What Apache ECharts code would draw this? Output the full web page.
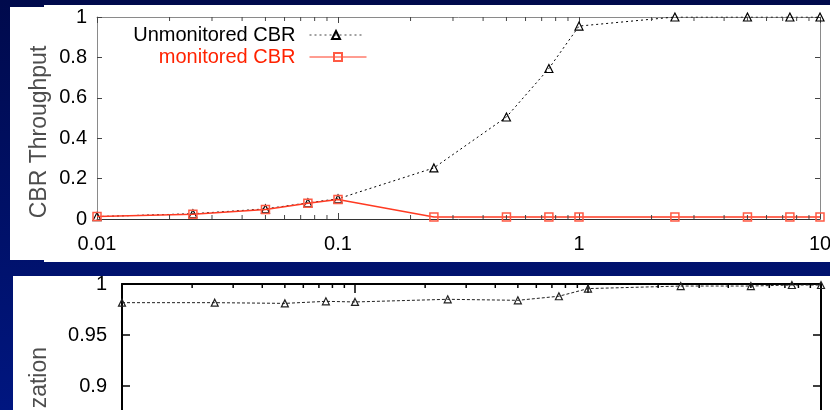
<!DOCTYPE html>
<html><head><meta charset="utf-8">
<script src="https://cdn.jsdelivr.net/npm/echarts@6/dist/echarts.min.js"></script>
<style>html,body{margin:0;padding:0;background:#020f66;overflow:hidden}#c{width:830px;height:410px}</style>
</head><body><div id="c"></div>
<script>
// ---- data ----
const xLoad = [0.01, 0.025, 0.05, 0.075, 0.1, 0.25, 0.5, 0.75, 1, 2.5, 5, 7.5, 10];
const unmonitoredThroughput = [0.012, 0.026, 0.05, 0.08, 0.1, 0.253, 0.505, 0.745, 0.955, 1, 1, 1, 1];
const monitoredThroughput = [0.012, 0.024, 0.047, 0.078, 0.097, 0.01, 0.01, 0.01, 0.01, 0.01, 0.01, 0.01, 0.01];
const unmonitoredUtilization = [0.9817, 0.9817, 0.981, 0.983, 0.9824, 0.985, 0.984, 0.988, 0.9955, 0.998, 0.998, 0.999, 0.999];
const xMinorTicks = [0.02,0.03,0.04,0.05,0.06,0.07,0.08,0.09,0.2,0.3,0.4,0.5,0.6,0.7,0.8,0.9,2,3,4,5,6,7,8,9];
const seriesNames = ['Unmonitored CBR', 'monitored CBR'];
const yNameTop = 'CBR Throughput';
const yNameBottom = 'Utilization';

const FONT = '"Liberation Sans", Arial, Helvetica, sans-serif';
const pairs = (ys) => xLoad.map((x, i) => [x, ys[i]]);

const chart = echarts.init(document.getElementById('c'), null, {renderer: 'canvas'});

function xAx(grid, pos, opts) {
  return Object.assign({
    type: 'log', logBase: 10, gridIndex: grid, position: pos, min: 0.01, max: 10,
    axisLine: {show: false, onZero: false},
    axisTick: {show: false},
    axisLabel: {show: false},
    splitLine: {show: false}, minorSplitLine: {show: false}
  }, opts);
}

// minor ticks on log axes, drawn through the axis scales
function minorTickSeries(xi, yi, yMin, yMax, len, color, width) {
  return {
    type: 'custom', xAxisIndex: xi, yAxisIndex: yi, silent: true, clip: false, z: 5,
    data: xMinorTicks.map(v => [v, yMin]),
    renderItem: function (params, api) {
      const v = api.value(0);
      const t = api.coord([v, yMax]);
      const b = api.coord([v, yMin]);
      const st = {stroke: color, lineWidth: width};
      return {type: 'group', children: [
        {type: 'line', shape: {x1: t[0], y1: t[1], x2: t[0], y2: t[1] + len}, style: st},
        {type: 'line', shape: {x1: b[0], y1: b[1], x2: b[0], y2: b[1] - len}, style: st}
      ]};
    }
  };
}

const greyLine = {color: '#8a8a8a', width: 1};
const blackLine = {color: '#000', width: 2};

const option = {
  animation: false,
  backgroundColor: 'transparent',
  graphic: [
    {type: 'rect', z: -100, shape: {x: 0, y: 0, width: 830, height: 410},
      style: {fill: {type: 'linear', x: 0, y: 0, x2: 0, y2: 1, colorStops: [
        {offset: 0, color: '#000a4c'}, {offset: 1, color: '#001680'}]}}},
    {type: 'rect', z: -90, shape: {x: 10, y: 7, width: 34, height: 253}, style: {fill: '#fff'}},
    {type: 'rect', z: -90, shape: {x: 44, y: 5, width: 786, height: 257}, style: {fill: '#fff'}},
    {type: 'rect', z: -90, shape: {x: 13, y: 276, width: 817, height: 134}, style: {fill: '#fff'}},
    {type: 'text', z: 50, x: 40, y: 132, rotation: Math.PI / 2,
      style: {text: yNameTop, fontSize: 23, fontFamily: FONT, fill: '#4d4d4d', align: 'center', verticalAlign: 'middle'}},
    {type: 'text', z: 50, x: 40, y: 347, rotation: Math.PI / 2,
      style: {text: yNameBottom, fontSize: 23, fontFamily: FONT, fill: '#4d4d4d', align: 'right', verticalAlign: 'middle'}}
  ],
  legend: [
    {data: [{name: seriesNames[0], textStyle: {color: '#000'}}], orient: 'vertical', right: 467, top: 25,
      padding: 0, itemWidth: 53, itemHeight: 10, align: 'right',
      lineStyle: {color: '#444', width: 1},
      textStyle: {fontSize: 20, fontFamily: FONT, padding: [0, 9, 0, 0]}},
    {data: [{name: seriesNames[1], textStyle: {color: '#ff2200'}}], orient: 'vertical', right: 463, top: 47,
      padding: 0, itemWidth: 57, itemHeight: 10, align: 'right',
      lineStyle: {width: 1},
      textStyle: {fontSize: 20, fontFamily: FONT, padding: [0, 9, 0, 0]}}
  ],
  grid: [
    {left: 97, right: 10, top: 17, bottom: 191, outerBoundsMode: 'none', containLabel: false},
    {left: 122, right: 9, top: 284, bottom: -27, outerBoundsMode: 'none', containLabel: false}
  ],
  xAxis: [
    xAx(0, 'bottom', {axisLine: {show: true, onZero: false, lineStyle: {color: '#333', width: 1}},
      axisTick: {show: true, inside: true, length: 6, lineStyle: {color: '#444'}},
      axisLabel: {show: true, fontSize: 20, fontFamily: FONT, color: '#000', margin: 15}}),
    xAx(0, 'top', {axisLine: {show: true, onZero: false, lineStyle: greyLine},
      axisTick: {show: true, inside: true, length: 6, lineStyle: {color: '#444'}}}),
    xAx(1, 'bottom', {axisLine: {show: true, onZero: false, lineStyle: blackLine},
      axisTick: {show: true, inside: true, length: 9, lineStyle: {color: '#000', width: 1.5}},
      axisLabel: {show: true, fontSize: 20, fontFamily: FONT, color: '#000', margin: 14}}),
    xAx(1, 'top', {axisLine: {show: true, onZero: false, lineStyle: blackLine},
      axisTick: {show: true, inside: true, length: 9, lineStyle: {color: '#000', width: 1.5}}})
  ],
  yAxis: [
    {type: 'value', gridIndex: 0, position: 'left', min: 0, max: 1, interval: 0.2,
      axisLine: {show: true, onZero: false, lineStyle: greyLine},
      axisTick: {show: true, inside: true, length: 5, lineStyle: {color: '#444'}},
      axisLabel: {fontSize: 20, fontFamily: FONT, color: '#000', margin: 10},
      splitLine: {show: false}},
    {type: 'value', gridIndex: 0, position: 'right', min: 0, max: 1, interval: 0.2,
      axisLine: {show: true, onZero: false, lineStyle: greyLine},
      axisTick: {show: true, inside: true, length: 5, lineStyle: {color: '#444'}},
      axisLabel: {show: false}, splitLine: {show: false}},
    {type: 'value', gridIndex: 1, position: 'left', min: 0.85, max: 1, interval: 0.05,
      axisLine: {show: true, onZero: false, lineStyle: blackLine},
      axisTick: {show: true, inside: true, length: 8, lineStyle: {color: '#000', width: 1.5}},
      axisLabel: {fontSize: 20, fontFamily: FONT, color: '#000', margin: 15},
      splitLine: {show: false}},
    {type: 'value', gridIndex: 1, position: 'right', min: 0.85, max: 1, interval: 0.05,
      axisLine: {show: true, onZero: false, lineStyle: blackLine},
      axisTick: {show: true, inside: true, length: 8, lineStyle: {color: '#000', width: 1.5}},
      axisLabel: {show: false}, splitLine: {show: false}}
  ],
  series: [
    minorTickSeries(0, 0, 0, 1, 4, '#444', 1),
    minorTickSeries(2, 2, 0.85, 1, 4, '#000', 1.5),
    {name: seriesNames[0], type: 'line', xAxisIndex: 0, yAxisIndex: 0, data: pairs(unmonitoredThroughput),
      symbol: 'triangle', symbolSize: 8, showAllSymbol: true, z: 3,
      lineStyle: {color: '#000', width: 1, type: [2, 3]},
      itemStyle: {color: 'rgba(255,255,255,0)', borderColor: '#000', borderWidth: 1.2}},
    {name: seriesNames[1], type: 'line', xAxisIndex: 0, yAxisIndex: 0, data: pairs(monitoredThroughput),
      symbol: 'rect', symbolSize: 8, showAllSymbol: true, z: 4,
      lineStyle: {color: '#ff3a22', width: 1.5},
      itemStyle: {color: 'rgba(255,255,255,0)', borderColor: '#ff5a44', borderWidth: 1.5}},
    {name: 'Utilization', type: 'line', xAxisIndex: 2, yAxisIndex: 2, data: pairs(unmonitoredUtilization),
      symbol: 'triangle', symbolSize: 7, showAllSymbol: true, z: 3,
      lineStyle: {color: '#222', width: 1, type: [3, 2]},
      itemStyle: {color: 'rgba(255,255,255,0)', borderColor: '#222', borderWidth: 1.2}}
  ]
};
chart.setOption(option);
</script>
</body></html>
